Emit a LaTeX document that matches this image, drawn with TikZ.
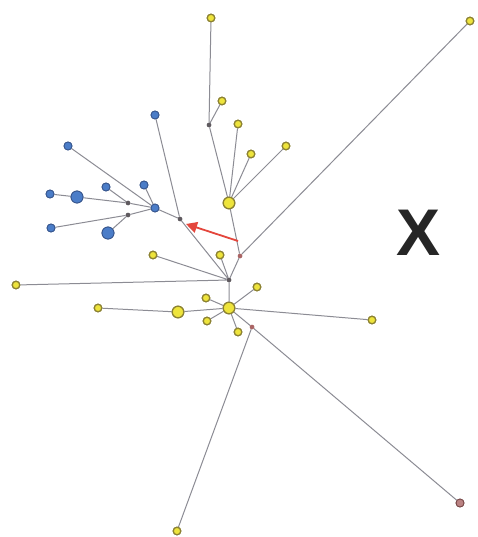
\documentclass[tikz,border=0pt]{standalone}
\usepackage{fontspec}
\setmainfont{Liberation Sans}
\usetikzlibrary{arrows.meta}
\definecolor{edgec}{RGB}{140,140,148}
\definecolor{yfill}{RGB}{238,228,60}
\definecolor{ydraw}{RGB}{140,130,50}
\definecolor{bfill}{RGB}{75,125,200}
\definecolor{bdraw}{RGB}{55,85,140}
\definecolor{inner}{RGB}{95,90,95}
\definecolor{innerred}{RGB}{170,100,100}
\definecolor{arrowred}{RGB}{228,70,60}
\definecolor{xcol}{RGB}{38,38,38}
\tikzset{
  ys/.style={circle,draw=ydraw,fill=yfill,line width=1.2pt,minimum size=7.5pt,inner sep=0pt},
  yb/.style={ys,minimum size=11.5pt},
  bs/.style={circle,draw=bdraw,fill=bfill,line width=0.8pt,minimum size=8pt,inner sep=0pt},
  bb/.style={bs,minimum size=12pt},
  ii/.style={circle,fill=inner,minimum size=4.5pt,inner sep=0pt},
  ir/.style={circle,fill=innerred,minimum size=4.5pt,inner sep=0pt},
  rn/.style={circle,draw=innerred!70!black,fill=innerred!80!white,line width=0.8pt,minimum size=8pt,inner sep=0pt},
  ed/.style={draw=edgec,line width=1pt}
}
\begin{document}
\begin{tikzpicture}[x=1pt,y=-1pt]
\useasboundingbox[fill=white] (0,0) rectangle (477,537);
% internal nodes
\node[ii] (i1) at (209,125) {};
\node[ii] (i2) at (180,219) {};
\node[ir] (i3) at (240,256) {};
\node[ii] (i4) at (229,280) {};
\node[ir] (i5) at (252,327) {};
\node[ii] (bi1) at (128,203) {};
\node[ii] (bi2) at (128,215) {};
% yellow
\node[ys] (y1) at (211,18) {};
\node[ys] (y2) at (470,21) {};
\node[ys] (y3) at (222,101) {};
\node[ys] (y4) at (238,124) {};
\node[ys] (y5) at (251,154) {};
\node[ys] (y6) at (286,146) {};
\node[yb] (yc1) at (229,203) {};
\node[ys] (y7) at (153,255) {};
\node[ys] (y8) at (220,255) {};
\node[ys] (y9) at (16,285) {};
\node[ys] (y10) at (98,308) {};
\node[yb] (y11) at (178,312) {};
\node[yb] (yc2) at (229,308) {};
\node[ys] (y12) at (206,298) {};
\node[ys] (y13) at (207,321) {};
\node[ys] (y14) at (238,332) {};
\node[ys] (y15) at (257,287) {};
\node[ys] (y16) at (372,320) {};
\node[ys] (y17) at (177,531) {};
\node[rn] (r1) at (460,503) {};
% blue
\node[bs] (b1) at (155,115) {};
\node[bs] (b2) at (68,146) {};
\node[bs] (b3) at (50,194) {};
\node[bb] (b4) at (77,197) {};
\node[bs] (b5) at (106,187) {};
\node[bs] (b6) at (144,185) {};
\node[bs] (bc) at (155,208) {};
\node[bs] (b7) at (51,228) {};
\node[bb] (b8) at (108,233) {};
% edges
\path[ed] (y1) -- (i1) (y3) -- (i1) (i1) -- (yc1)
  (y4) -- (yc1) (y5) -- (yc1) (y6) -- (yc1) (yc1) -- (i3)
  (y2) -- (i3) (i3) -- (i4) (y7) -- (i4) (y8) -- (i4) (i2) -- (i4) (y9) -- (i4)
  (i4) -- (yc2) (y10) -- (y11) (y11) -- (yc2) (y12) -- (yc2) (y13) -- (yc2)
  (y14) -- (yc2) (y15) -- (yc2) (yc2) -- (y16) (yc2) -- (i5)
  (i5) -- (y17) (i5) -- (r1)
  (b2) -- (bc) (b3) -- (b4) (b4) -- (bi1) (b5) -- (bi1) (bi1) -- (bc)
  (b6) -- (bc) (b7) -- (bi2) (b8) -- (bi2) (bi2) -- (bc) (bc) -- (i2) (b1) -- (i2);
% redraw nodes on top
\foreach \n in {i1,i2,i4,bi1,bi2}{\node[ii] at (\n) {};}
\foreach \n in {i3,i5}{\node[ir] at (\n) {};}
\foreach \n in {y1,y2,y3,y4,y5,y6,y7,y8,y9,y10,y12,y13,y14,y15,y16,y17}{\node[ys] at (\n) {};}
\foreach \n in {yc1,yc2,y11}{\node[yb] at (\n) {};}
\foreach \n in {b1,b2,b3,b5,b6,bc,b7}{\node[bs] at (\n) {};}
\foreach \n in {b4,b8}{\node[bb] at (\n) {};}
\node[rn] at (r1) {};
% red arrow
\coordinate (atail) at (238,241);
\coordinate (ahead) at (186,224);
\draw[arrowred,line width=1.8pt,-{Triangle[length=11pt,width=11pt]}] (atail) -- (ahead);
% X label
\node[text=xcol,font=\bfseries\fontsize{66}{66}\selectfont,inner sep=0pt] (xl) at (419,233) {X};
\end{tikzpicture}
\end{document}
